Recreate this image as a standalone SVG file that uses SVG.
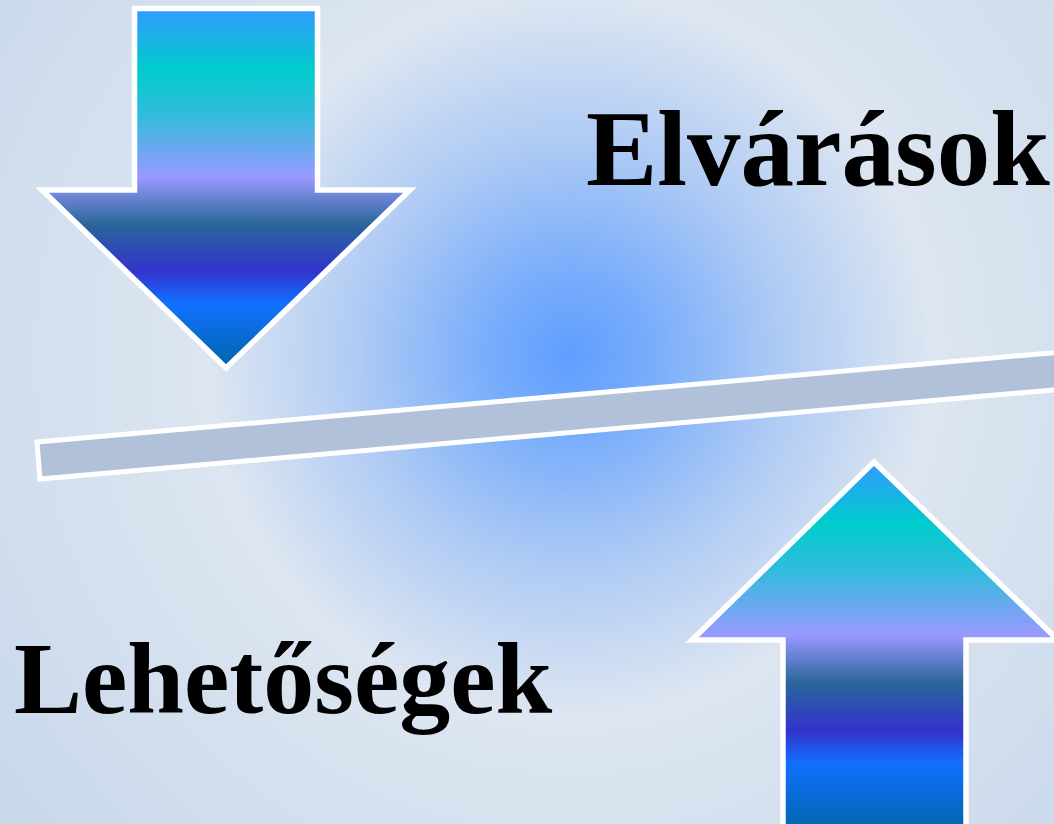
<svg xmlns="http://www.w3.org/2000/svg" width="1054" height="824" viewBox="0 0 1054 824">
<defs>
<radialGradient id="bg" gradientUnits="userSpaceOnUse" cx="570" cy="355" r="720">
<stop offset="0" stop-color="#5f9dff"/>
<stop offset="0.12" stop-color="#7aaefb"/>
<stop offset="0.3" stop-color="#b0cbf4"/>
<stop offset="0.5" stop-color="#dde6f1"/>
<stop offset="1" stop-color="#c8d8eb"/>
</radialGradient>
<linearGradient id="arrowFill" x1="0" y1="0" x2="0" y2="1">
<stop offset="0" stop-color="#3399ff"/>
<stop offset="0.17" stop-color="#00cccc"/>
<stop offset="0.3" stop-color="#33bbdd"/>
<stop offset="0.47" stop-color="#9999ff"/>
<stop offset="0.6" stop-color="#2a6699"/>
<stop offset="0.73" stop-color="#3333cc"/>
<stop offset="0.82" stop-color="#1170ff"/>
<stop offset="1" stop-color="#0066aa"/>
</linearGradient>
</defs>
<style>
.arrow{fill:url(#arrowFill);stroke:#ffffff;stroke-width:5.5;stroke-linejoin:miter}
.bar{fill:#b1c1da;stroke:#ffffff;stroke-width:5}
.label{font-family:"Liberation Serif","Times New Roman",serif;font-weight:bold;fill:#000000}
</style>
<rect x="0" y="0" width="1054" height="824" fill="url(#bg)"/>
<g id="bar">
<polygon class="bar" points="37,442 1073,351 1076,388 40,479"/>
</g>
<g id="arrow-down">
<polygon class="arrow" points="134.5,8.5 317.5,8.5 317.5,190 410,190 226,368 42,190 134.5,190"/>
</g>
<g id="arrow-up">
<polygon class="arrow" points="874,462 1058,640 966,640 966,830 783,830 783,640 692,640"/>
</g>
<g id="label-elvarasok">
<text class="label" x="586" y="185" font-size="107">Elvárások</text>
</g>
<g id="label-lehetosegek">
<text class="label" x="14" y="713" font-size="102">Lehetőségek</text>
</g>
</svg>
